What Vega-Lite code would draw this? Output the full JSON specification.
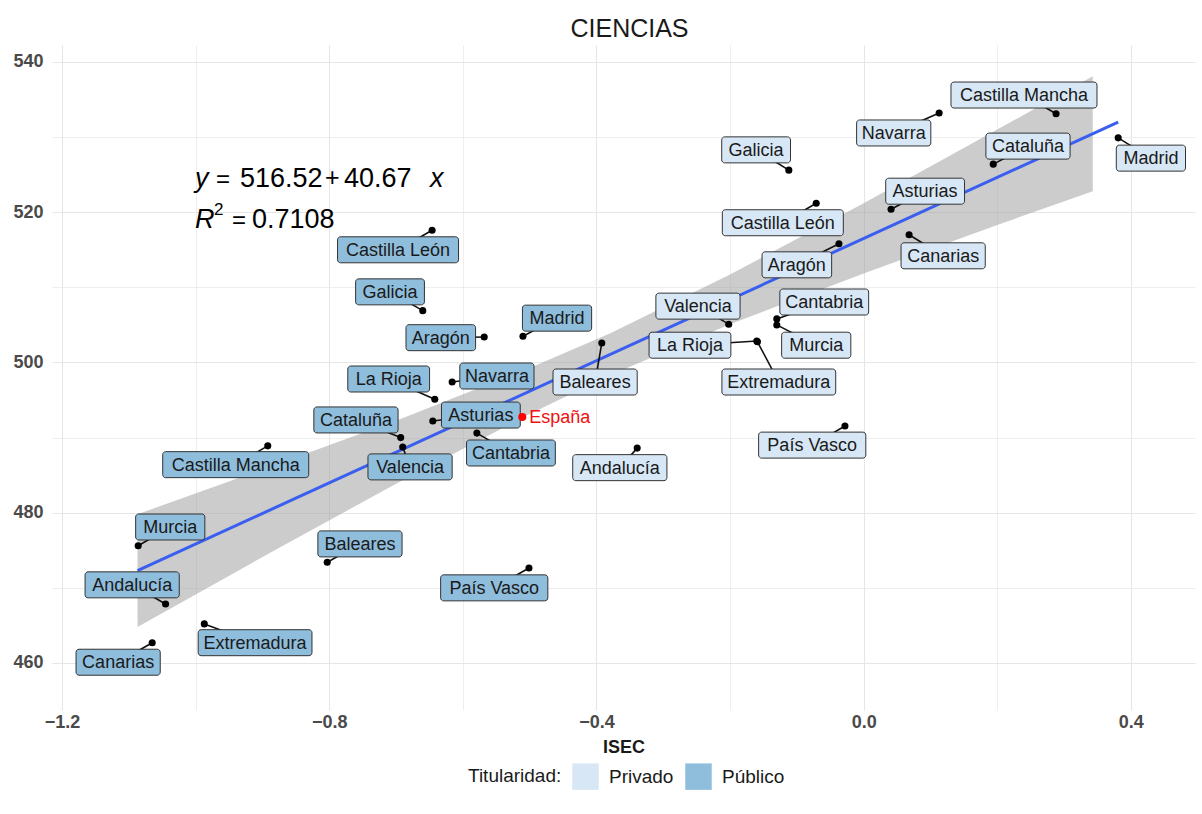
{
  "$schema": "https://vega.github.io/schema/vega-lite/v6.json",
  "autosize": {"type": "none"},
  "width": 1143,
  "height": 665,
  "padding": {"left": 52, "top": 45, "right": 7, "bottom": 104},
  "background": "white",
  "title": {"text": "CIENCIAS", "fontSize": 25, "font": "Liberation Sans", "fontWeight": "normal", "color": "#1a1a1a", "anchor": "middle", "offset": 3, "dx": 6},
  "config": {
    "view": {"stroke": null},
    "font": "Liberation Sans",
    "axis": {"domain": false, "ticks": false, "labelFont": "Liberation Sans", "labelFontSize": 18, "labelFontWeight": "bold", "labelColor": "#4a4a4a", "titleFont": "Liberation Sans", "titleFontSize": 18, "titleFontWeight": "bold", "titleColor": "#1a1a1a", "gridColor": "#e6e6e6", "gridWidth": 1},
    "legend": {"orient": "none", "legendX": 416, "legendY": 718, "direction": "horizontal", "titleOrient": "left", "symbolType": "square", "symbolSize": 700, "symbolStrokeWidth": 0, "symbolOpacity": 1, "labelFontSize": 19, "titleFontSize": 19, "titleFontWeight": "normal", "labelFont": "Liberation Sans", "titleFont": "Liberation Sans", "labelColor": "#1a1a1a", "titleColor": "#1a1a1a", "columnPadding": 11, "labelOffset": 10, "titlePadding": 10}
  },
  "datasets": {
    "pts": [
      {"name": "Castilla León", "tit": "Público", "isec": -0.646, "ciencias": 517.6, "label_isec": -0.697, "label_ciencias": 515.0},
      {"name": "Galicia", "tit": "Público", "isec": -0.660, "ciencias": 506.9, "label_isec": -0.709, "label_ciencias": 509.4},
      {"name": "Aragón", "tit": "Público", "isec": -0.568, "ciencias": 503.4, "label_isec": -0.633, "label_ciencias": 503.3},
      {"name": "Madrid", "tit": "Público", "isec": -0.510, "ciencias": 503.5, "label_isec": -0.459, "label_ciencias": 505.9},
      {"name": "La Rioja", "tit": "Público", "isec": -0.642, "ciencias": 495.1, "label_isec": -0.711, "label_ciencias": 497.8},
      {"name": "Navarra", "tit": "Público", "isec": -0.616, "ciencias": 497.4, "label_isec": -0.549, "label_ciencias": 498.2},
      {"name": "Asturias", "tit": "Público", "isec": -0.645, "ciencias": 492.2, "label_isec": -0.573, "label_ciencias": 493.0},
      {"name": "Cataluña", "tit": "Público", "isec": -0.693, "ciencias": 490.0, "label_isec": -0.760, "label_ciencias": 492.35},
      {"name": "Valencia", "tit": "Público", "isec": -0.690, "ciencias": 488.75, "label_isec": -0.679, "label_ciencias": 486.1},
      {"name": "Cantabria", "tit": "Público", "isec": -0.579, "ciencias": 490.6, "label_isec": -0.528, "label_ciencias": 487.95},
      {"name": "Castilla Mancha", "tit": "Público", "isec": -0.892, "ciencias": 488.9, "label_isec": -0.940, "label_ciencias": 486.4},
      {"name": "Murcia", "tit": "Público", "isec": -1.086, "ciencias": 475.6, "label_isec": -1.038, "label_ciencias": 478.1},
      {"name": "Andalucía", "tit": "Público", "isec": -1.045, "ciencias": 467.85, "label_isec": -1.095, "label_ciencias": 470.4},
      {"name": "Baleares", "tit": "Público", "isec": -0.803, "ciencias": 473.4, "label_isec": -0.754, "label_ciencias": 475.85},
      {"name": "País Vasco", "tit": "Público", "isec": -0.501, "ciencias": 472.65, "label_isec": -0.553, "label_ciencias": 470.0},
      {"name": "Extremadura", "tit": "Público", "isec": -0.987, "ciencias": 465.2, "label_isec": -0.911, "label_ciencias": 462.7},
      {"name": "Canarias", "tit": "Público", "isec": -1.065, "ciencias": 462.7, "label_isec": -1.116, "label_ciencias": 460.1},
      {"name": "Castilla Mancha", "tit": "Privado", "isec": 0.288, "ciencias": 533.1, "label_isec": 0.240, "label_ciencias": 535.6},
      {"name": "Navarra", "tit": "Privado", "isec": 0.113, "ciencias": 533.2, "label_isec": 0.045, "label_ciencias": 530.55},
      {"name": "Cataluña", "tit": "Privado", "isec": 0.194, "ciencias": 526.4, "label_isec": 0.246, "label_ciencias": 528.8},
      {"name": "Madrid", "tit": "Privado", "isec": 0.381, "ciencias": 529.9, "label_isec": 0.430, "label_ciencias": 527.2},
      {"name": "Asturias", "tit": "Privado", "isec": 0.041, "ciencias": 520.4, "label_isec": 0.092, "label_ciencias": 522.8},
      {"name": "Canarias", "tit": "Privado", "isec": 0.068, "ciencias": 517.0, "label_isec": 0.119, "label_ciencias": 514.2},
      {"name": "Aragón", "tit": "Privado", "isec": -0.037, "ciencias": 515.8, "label_isec": -0.100, "label_ciencias": 513.0},
      {"name": "Galicia", "tit": "Privado", "isec": -0.112, "ciencias": 525.6, "label_isec": -0.161, "label_ciencias": 528.3},
      {"name": "Castilla León", "tit": "Privado", "isec": -0.071, "ciencias": 521.2, "label_isec": -0.121, "label_ciencias": 518.6},
      {"name": "Valencia", "tit": "Privado", "isec": -0.202, "ciencias": 505.1, "label_isec": -0.248, "label_ciencias": 507.5},
      {"name": "Cantabria", "tit": "Privado", "isec": -0.130, "ciencias": 505.8, "label_isec": -0.059, "label_ciencias": 508.05},
      {"name": "Murcia", "tit": "Privado", "isec": -0.130, "ciencias": 505.0, "label_isec": -0.071, "label_ciencias": 502.3},
      {"name": "La Rioja", "tit": "Privado", "isec": -0.160, "ciencias": 502.85, "label_isec": -0.260, "label_ciencias": 502.3},
      {"name": "Extremadura", "tit": "Privado", "isec": -0.159, "ciencias": 502.75, "label_isec": -0.127, "label_ciencias": 497.4},
      {"name": "Baleares", "tit": "Privado", "isec": -0.392, "ciencias": 502.6, "label_isec": -0.402, "label_ciencias": 497.4},
      {"name": "Andalucía", "tit": "Privado", "isec": -0.339, "ciencias": 488.6, "label_isec": -0.365, "label_ciencias": 486.0},
      {"name": "País Vasco", "tit": "Privado", "isec": -0.028, "ciencias": 491.55, "label_isec": -0.077, "label_ciencias": 489.0}
    ],
    "espana": [{"name": "España", "isec": -0.511, "ciencias": 492.75}],
    "fit": [
      {"isec": -1.087, "ciencias": 472.3},
      {"isec": 0.381, "ciencias": 532.0}
    ],
    "band": [
      {"isec": -1.087, "lo": 464.8, "hi": 479.8},
      {"isec": -0.9, "lo": 474.1, "hi": 485.75},
      {"isec": -0.7, "lo": 483.85, "hi": 492.25},
      {"isec": -0.5, "lo": 493.15, "hi": 499.25},
      {"isec": -0.38, "lo": 498.3, "hi": 503.85},
      {"isec": -0.2, "lo": 505.1, "hi": 511.7},
      {"isec": 0.0, "lo": 511.85, "hi": 521.2},
      {"isec": 0.2, "lo": 518.3, "hi": 531.0},
      {"isec": 0.343, "lo": 522.8, "hi": 538.1}
    ],
    "eq1": [{"isec": -1.001, "ciencias": 523.4}],
    "eq2": [{"isec": -1.001, "ciencias": 517.9}]
  },
  "layer": [
    {
      "data": {"name": "band"},
      "mark": {"type": "area", "color": "#999999", "opacity": 0.5},
      "encoding": {
        "x": {"field": "isec", "type": "quantitative", "title": "ISEC",
              "scale": {"domain": [-1.215, 0.496], "nice": false, "zero": false},
              "axis": {"values": [-1.2, -1.0, -0.8, -0.6, -0.4, -0.2, 0, 0.2, 0.4], "format": ".1f",
                       "labelExpr": "(abs(datum.value - (-1.0)) < 0.01 || abs(datum.value - (-0.6)) < 0.01 || abs(datum.value - (-0.2)) < 0.01 || abs(datum.value - 0.2) < 0.01) ? '' : datum.label",
                       "gridWidth": {"condition": {"test": "abs(datum.value - (-1.0)) < 0.01 || abs(datum.value - (-0.6)) < 0.01 || abs(datum.value - (-0.2)) < 0.01 || abs(datum.value - 0.2) < 0.01", "value": 0.7}, "value": 1.1},
                       "labelPadding": 3, "titlePadding": 7}},
        "y": {"field": "lo", "type": "quantitative", "title": null,
              "scale": {"domain": [453.74, 542.26], "nice": false, "zero": false},
              "axis": {"values": [460, 470, 480, 490, 500, 510, 520, 530, 540],
                       "labelExpr": "datum.value % 20 == 0 ? datum.label : ''",
                       "gridWidth": {"condition": {"test": "datum.value % 20 != 0", "value": 0.7}, "value": 1.1},
                       "labelPadding": 9}},
        "y2": {"field": "hi"}
      }
    },
    {
      "data": {"name": "fit"},
      "mark": {"type": "line", "color": "#3A5FF0", "strokeWidth": 3},
      "encoding": {
        "x": {"field": "isec", "type": "quantitative", "title": "ISEC"},
        "y": {"field": "ciencias", "type": "quantitative", "title": null}
      }
    },
    {
      "data": {"name": "pts"},
      "mark": {"type": "rule", "color": "#111111", "strokeWidth": 1.6},
      "encoding": {
        "x": {"field": "isec", "type": "quantitative", "title": "ISEC"},
        "y": {"field": "ciencias", "type": "quantitative", "title": null},
        "x2": {"field": "label_isec"},
        "y2": {"field": "label_ciencias"}
      }
    },
    {
      "data": {"name": "pts"},
      "mark": {"type": "circle", "color": "#000000", "opacity": 1, "size": 50},
      "encoding": {
        "x": {"field": "isec", "type": "quantitative", "title": "ISEC"},
        "y": {"field": "ciencias", "type": "quantitative", "title": null}
      }
    },
    {
      "data": {"name": "pts"},
      "mark": {"type": "rect", "height": 26, "cornerRadius": 3, "stroke": "#333333", "strokeWidth": 1, "opacity": 1,
               "width": {"expr": "12 + 10*length(datum.name) - 5.4*length(replace(datum.name, regexp('[^iltjrfí ]','g'), '')) + 3*length(replace(datum.name, regexp('[^A-ZÁÉÍÓÚÑ]','g'), '')) + 5*length(replace(datum.name, regexp('[^mMwW]','g'), ''))"}},
      "encoding": {
        "x": {"field": "label_isec", "type": "quantitative", "title": "ISEC"},
        "y": {"field": "label_ciencias", "type": "quantitative", "title": null},
        "fill": {"field": "tit", "type": "nominal", "title": "Titularidad:",
                 "scale": {"domain": ["Privado", "Público"], "range": ["#D7E7F5", "#8FBDDC"]}}
      }
    },
    {
      "data": {"name": "pts"},
      "mark": {"type": "text", "fontSize": 18, "font": "Liberation Sans", "color": "#1a1a1a", "align": "center", "baseline": "middle", "dy": 1},
      "encoding": {
        "x": {"field": "label_isec", "type": "quantitative", "title": "ISEC"},
        "y": {"field": "label_ciencias", "type": "quantitative", "title": null},
        "text": {"field": "name"}
      }
    },
    {
      "data": {"name": "espana"},
      "mark": {"type": "circle", "color": "#FF0000", "opacity": 1, "size": 65},
      "encoding": {
        "x": {"field": "isec", "type": "quantitative", "title": "ISEC"},
        "y": {"field": "ciencias", "type": "quantitative", "title": null}
      }
    },
    {
      "data": {"name": "espana"},
      "mark": {"type": "text", "fontSize": 18, "font": "Liberation Sans", "color": "#EE1111", "align": "left", "baseline": "middle", "dx": 7, "dy": 1},
      "encoding": {
        "x": {"field": "isec", "type": "quantitative", "title": "ISEC"},
        "y": {"field": "ciencias", "type": "quantitative", "title": null},
        "text": {"field": "name"}
      }
    },
    {
      "data": {"name": "eq1"},
      "layer": [
        {"mark": {"type": "text", "text": "y", "fontSize": 27, "fontStyle": "italic", "align": "left", "baseline": "alphabetic", "color": "#000000", "dx": 0}},
        {"mark": {"type": "text", "text": "=", "fontSize": 24, "align": "left", "baseline": "alphabetic", "color": "#000000", "dx": 21}},
        {"mark": {"type": "text", "text": "516.52", "fontSize": 27, "align": "left", "baseline": "alphabetic", "color": "#000000", "dx": 45}},
        {"mark": {"type": "text", "text": "+", "fontSize": 25, "align": "left", "baseline": "alphabetic", "color": "#000000", "dx": 130, "dy": -1}},
        {"mark": {"type": "text", "text": "40.67", "fontSize": 27, "align": "left", "baseline": "alphabetic", "color": "#000000", "dx": 149}},
        {"mark": {"type": "text", "text": "x", "fontSize": 27, "fontStyle": "italic", "align": "left", "baseline": "alphabetic", "color": "#000000", "dx": 235}}
      ],
      "encoding": {
        "x": {"field": "isec", "type": "quantitative", "title": "ISEC"},
        "y": {"field": "ciencias", "type": "quantitative", "title": null}
      }
    },
    {
      "data": {"name": "eq2"},
      "layer": [
        {"mark": {"type": "text", "text": "R", "fontSize": 27, "fontStyle": "italic", "align": "left", "baseline": "alphabetic", "color": "#000000", "dx": 0}},
        {"mark": {"type": "text", "text": "2", "fontSize": 17, "align": "left", "baseline": "alphabetic", "color": "#000000", "dx": 19, "dy": -13}},
        {"mark": {"type": "text", "text": "=", "fontSize": 24, "align": "left", "baseline": "alphabetic", "color": "#000000", "dx": 37}},
        {"mark": {"type": "text", "text": "0.7108", "fontSize": 27, "align": "left", "baseline": "alphabetic", "color": "#000000", "dx": 57}}
      ],
      "encoding": {
        "x": {"field": "isec", "type": "quantitative", "title": "ISEC"},
        "y": {"field": "ciencias", "type": "quantitative", "title": null}
      }
    }
  ]
}
